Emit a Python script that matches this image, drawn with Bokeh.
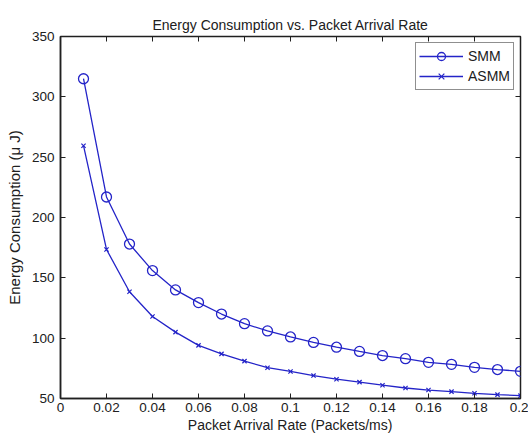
from bokeh.plotting import figure
from bokeh.models import FixedTicker, LinearAxis, Range1d, Legend, LegendItem
from bokeh.embed import file_html
from bokeh.resources import INLINE

rate = [0.01, 0.02, 0.03, 0.04, 0.05, 0.06, 0.07, 0.08, 0.09, 0.10,
        0.11, 0.12, 0.13, 0.14, 0.15, 0.16, 0.17, 0.18, 0.19, 0.20]
smm = [315, 217, 178, 156, 140, 129.5, 120, 112, 106, 101,
       96.5, 92.5, 89, 85.6, 83, 80, 78.3, 75.8, 74, 72.5]
asmm = [259.5, 173.5, 138.5, 118, 105, 94, 87, 81, 75.5, 72.4,
        69, 66, 63.6, 61, 58.7, 57, 55.7, 54.3, 53.2, 52.4]

x_ticks = [0, 0.02, 0.04, 0.06, 0.08, 0.1, 0.12, 0.14, 0.16, 0.18, 0.2]
x_labels = ["0", "0.02", "0.04", "0.06", "0.08", "0.1", "0.12", "0.14", "0.16", "0.18", "0.2"]
y_ticks = [50, 100, 150, 200, 250, 300, 350]

title = "Energy Consumption vs. Packet Arrival Rate"
x_title = "Packet Arrival Rate (Packets/ms)"
y_title = "Energy Consumption (\u03bc J)"

FONT = "Liberation Sans"
BLUE = "#2424c8"
INK = "#202020"

p = figure(width=528, height=435, output_backend="svg", toolbar_location=None,
           x_range=Range1d(0, 0.2), y_range=Range1d(50, 350),
           min_border_left=60, min_border_right=8, min_border_top=36, min_border_bottom=35,
           title=title)
p.title.align = "center"
p.title.text_font = FONT
p.title.text_font_size = "14px"
p.title.text_font_style = "normal"
p.title.text_color = INK
p.title.offset = 0
p.title.standoff = 8

p.xgrid.visible = False
p.ygrid.visible = False
p.outline_line_color = INK
p.outline_line_width = 1.5
p.background_fill_color = "white"
p.border_fill_color = "white"

for ax in [p.xaxis[0], p.yaxis[0]]:
    ax.major_tick_in = 5
    ax.major_tick_out = 0
    ax.minor_tick_in = 0
    ax.minor_tick_out = 0
    ax.axis_line_color = INK
    ax.axis_line_width = 1.5
    ax.major_tick_line_color = INK
    ax.major_label_text_font = FONT
    ax.major_label_text_font_size = "13.5px"
    ax.major_label_text_color = INK
    ax.axis_label_text_font = FONT
    ax.axis_label_text_font_style = "normal"
    ax.axis_label_text_color = INK

p.xaxis[0].ticker = FixedTicker(ticks=x_ticks)
p.xaxis[0].major_label_overrides = {t: l for t, l in zip(x_ticks, x_labels)}
p.xaxis[0].axis_label = x_title
p.xaxis[0].axis_label_text_font_size = "14px"
p.xaxis[0].major_label_standoff = 4
p.xaxis[0].axis_label_standoff = 2
p.yaxis[0].ticker = FixedTicker(ticks=y_ticks)
p.yaxis[0].axis_label = y_title
p.yaxis[0].axis_label_text_font_size = "15px"
p.yaxis[0].major_label_standoff = 6
p.yaxis[0].axis_label_standoff = 6

top = LinearAxis(ticker=FixedTicker(ticks=x_ticks), major_label_text_color=None,
                 major_label_text_font_size="1px",
                 major_tick_in=5, major_tick_out=0, minor_tick_in=0, minor_tick_out=0,
                 axis_line_color=None, major_tick_line_color=INK, major_label_standoff=0)
right = LinearAxis(ticker=FixedTicker(ticks=y_ticks), major_label_text_color=None,
                   major_label_text_font_size="1px",
                   major_tick_in=5, major_tick_out=0, minor_tick_in=0, minor_tick_out=0,
                   axis_line_color=None, major_tick_line_color=INK, major_label_standoff=0)
p.add_layout(top, "above")
p.add_layout(right, "right")

l1 = p.line(rate, smm, line_color=BLUE, line_width=1.3)
m1 = p.scatter(rate, smm, marker="circle", size=10, fill_color=None, line_color=BLUE, line_width=1.3)
l2 = p.line(rate, asmm, line_color=BLUE, line_width=1.3)
m2 = p.scatter(rate, asmm, marker="x", size=6, line_color=BLUE, line_width=1.2)

legend = Legend(items=[LegendItem(label="SMM", renderers=[l1, m1]),
                       LegendItem(label="ASMM", renderers=[l2, m2])],
                location="top_right")
legend.label_text_font = FONT
legend.label_text_font_size = "14px"
legend.label_text_color = INK
legend.border_line_color = INK
legend.border_line_width = 1
legend.margin = 6
legend.padding = 3
legend.spacing = 0
legend.glyph_width = 44
legend.label_standoff = 5
legend.label_height = 20
legend.glyph_height = 20
p.add_layout(legend)

open("out.html", "w").write(file_html(p, INLINE))
